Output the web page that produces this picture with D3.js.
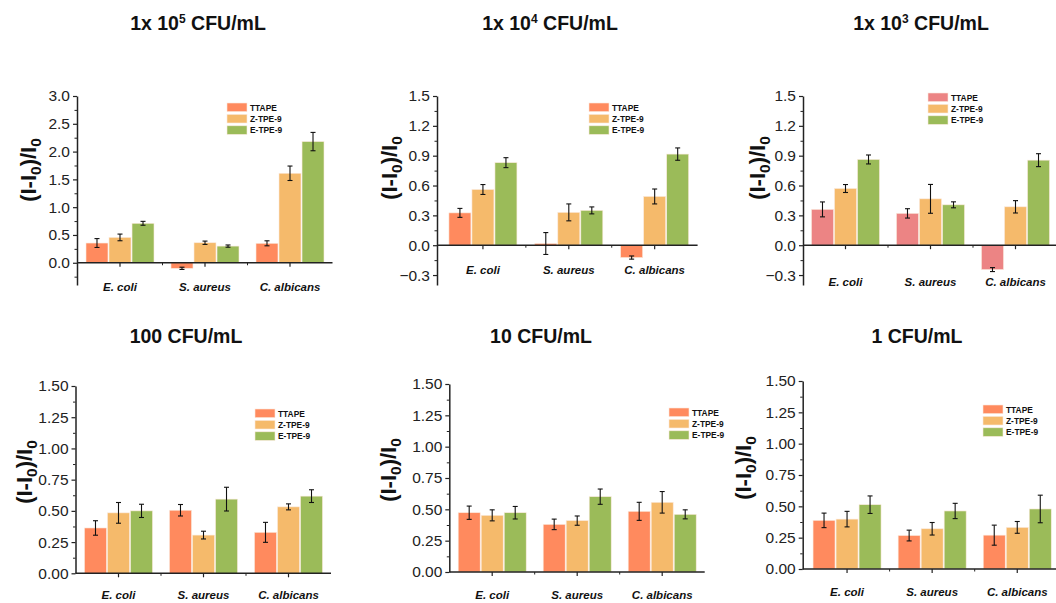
<!DOCTYPE html>
<html><head><meta charset="utf-8">
<script src="https://cdn.jsdelivr.net/npm/d3@7"></script>
<style>body{margin:0;background:#fff}svg{display:block}</style>
</head><body><svg id="c" width="1056" height="603"></svg>
<script>
const categories = ["E. coli", "S. aureus", "C. albicans"];
const series = ["TTAPE", "Z-TPE-9", "E-TPE-9"];
const titleMain = ["1x 10", "1x 10", "1x 10", "100 CFU/mL", "10 CFU/mL", "1 CFU/mL"];
const titleSup = ["5", "4", "3", "", "", ""];
const titleTail = [" CFU/mL", " CFU/mL", " CFU/mL", "", "", ""];
const ticksTop1 = [0, 0.5, 1.0, 1.5, 2.0, 2.5, 3.0];
const ticksTop = [-0.3, 0, 0.3, 0.6, 0.9, 1.2, 1.5];
const ticksBottom = [0, 0.25, 0.5, 0.75, 1.0, 1.25, 1.5];
// values[category][series], errors[category][series]
const p1Values = [[0.355, 0.456, 0.71], [-0.10, 0.36, 0.30], [0.35, 1.61, 2.18]];
const p1Errors = [[0.08, 0.06, 0.035], [0.02, 0.03, 0.02], [0.045, 0.13, 0.165]];
const p2Values = [[0.325, 0.56, 0.83], [0.017, 0.33, 0.35], [-0.124, 0.49, 0.916]];
const p2Errors = [[0.045, 0.05, 0.05], [0.11, 0.085, 0.035], [0.016, 0.075, 0.062]];
const p3Values = [[0.36, 0.57, 0.862], [0.32, 0.466, 0.406], [-0.245, 0.386, 0.855]];
const p3Errors = [[0.075, 0.04, 0.045], [0.047, 0.145, 0.03], [0.02, 0.062, 0.065]];
const p4Values = [[0.363, 0.484, 0.50], [0.505, 0.306, 0.594], [0.328, 0.532, 0.618]];
const p4Errors = [[0.058, 0.083, 0.053], [0.046, 0.031, 0.095], [0.08, 0.024, 0.051]];
const p5Values = [[0.473, 0.452, 0.473], [0.38, 0.41, 0.601], [0.484, 0.556, 0.46]];
const p5Errors = [[0.053, 0.044, 0.05], [0.042, 0.037, 0.061], [0.072, 0.086, 0.036]];
const p6Values = [[0.388, 0.398, 0.513], [0.267, 0.321, 0.463], [0.27, 0.332, 0.479]];
const p6Errors = [[0.058, 0.062, 0.07], [0.043, 0.05, 0.061], [0.08, 0.047, 0.11]];

const baseColors = ["#FF8A5E", "#F5BA6B", "#9BBB59"];
const p3Colors = ["#EC8484", "#F5BA6B", "#9BBB59"];

const panels = [
  {vals: p1Values, errs: p1Errors, ticks: ticksTop1, minor: 0.25, fmt: ".1f", dom: [-0.4, 3.0], yr: [285, 96], ax: 77, xr: [77.5, 332.5], colors: baseColors,
   title: [198, 30], ytitle: [28, 170], catY: 291, leg: [227, 103]},
  {vals: p2Values, errs: p2Errors, ticks: ticksTop, minor: 0.15, fmt: ".1f", dom: [-0.4, 1.5], yr: [285, 96], ax: 437, xr: [440, 697.6], colors: baseColors,
   title: [550, 30], ytitle: [389, 168], catY: 274, leg: [589, 103]},
  {vals: p3Values, errs: p3Errors, ticks: ticksTop, minor: 0.15, fmt: ".1f", dom: [-0.4, 1.5], yr: [285, 96], ax: 803, xr: [803, 1058], colors: p3Colors,
   title: [921, 30], ytitle: [757, 168], catY: 286, leg: [928, 93]},
  {vals: p4Values, errs: p4Errors, ticks: ticksBottom, minor: 0.125, fmt: ".2f", dom: [0, 1.5], yr: [573.3, 386], ax: 75.5, xr: [76, 331], colors: baseColors,
   title: [186, 343], ytitle: [24, 472], catY: 599, leg: [255, 409]},
  {vals: p5Values, errs: p5Errors, ticks: ticksBottom, minor: 0.125, fmt: ".2f", dom: [0, 1.5], yr: [572, 384], ax: 449.3, xr: [449.7, 704.7], colors: baseColors,
   title: [541, 343], ytitle: [388, 470], catY: 599, leg: [669, 408]},
  {vals: p6Values, errs: p6Errors, ticks: ticksBottom, minor: 0.125, fmt: ".2f", dom: [0, 1.5], yr: [569, 381], ax: 802.7, xr: [804.5, 1059.8], colors: baseColors,
   title: [917, 343], ytitle: [743, 468], catY: 596, leg: [983, 405]}
];

const svg = d3.select("#c");
const axisColor = "#222";
const FONT = "Liberation Sans, Arial, sans-serif";

panels.forEach((p, pi) => {
  const g = svg.append("g");
  const y = d3.scaleLinear().domain(p.dom).range(p.yr);
  const x = d3.scaleBand().domain(categories).range(p.xr);
  const groupW = 68;
  const xs = d3.scaleBand().domain(series).range([0, groupW]).paddingInner(0.045);

  // title
  const t = g.append("text").attr("x", p.title[0]).attr("y", p.title[1]).attr("text-anchor", "middle")
    .attr("font-family", FONT).attr("font-weight", "bold").attr("font-size", 19.5).attr("fill", "#111");
  t.append("tspan").text(titleMain[pi]);
  if (titleSup[pi]) {
    t.append("tspan").text(titleSup[pi]).attr("font-size", 12).attr("dy", -7);
    t.append("tspan").text(titleTail[pi]).attr("dy", 7);
  }

  // bars
  p.vals.forEach((row, ci) => {
    row.forEach((v, si) => {
      const bx = x(categories[ci]) + (x.bandwidth() - groupW) / 2 + xs(series[si]);
      g.append("rect").attr("x", bx).attr("width", xs.bandwidth())
        .attr("y", y(Math.max(0, v))).attr("height", Math.abs(y(v) - y(0)))
        .attr("fill", p.colors[si]).attr("stroke", "#fbe9dc").attr("stroke-width", 0.6);
    });
  });

  // y axis
  const yAxis = d3.axisLeft(y).tickValues(p.ticks).tickFormat(d3.format(p.fmt)).tickSize(4).tickSizeOuter(0).tickPadding(3);
  const ya = g.append("g").attr("transform", `translate(${p.ax},0)`).call(yAxis);
  ya.select(".domain").attr("stroke", axisColor).attr("stroke-width", 1.5);
  ya.selectAll(".tick line").attr("stroke", axisColor).attr("stroke-width", 1.2);
  ya.selectAll("text").attr("font-family", FONT).attr("font-size", 15.5).attr("fill", "#222");
  const mv = [];
  for (let k = -20; k <= 40; k++) {
    const v = k * p.minor * 2 + p.minor;
    if (v > p.dom[0] + 1e-9 && v < p.dom[1] - 1e-9) mv.push(v);
  }
  const yMinor = d3.axisLeft(y).tickValues(mv).tickFormat("").tickSize(2.5).tickSizeOuter(0);
  const ym = g.append("g").attr("transform", `translate(${p.ax},0)`).call(yMinor);
  ym.select(".domain").remove();
  ym.selectAll(".tick line").attr("stroke", axisColor).attr("stroke-width", 1);

  // x axis at zero
  const xAxis = d3.axisBottom(x).tickFormat("").tickSize(4).tickSizeOuter(0);
  const xa = g.append("g").attr("transform", `translate(0,${y(0)})`).call(xAxis);
  xa.select(".domain").remove();
  xa.selectAll(".tick line").attr("stroke", axisColor).attr("stroke-width", 1.2);
  g.append("line").attr("x1", p.ax).attr("x2", p.xr[1]).attr("y1", y(0)).attr("y2", y(0))
    .attr("stroke", axisColor).attr("stroke-width", 1.5);
  [categories[1], categories[2]].forEach(c => {
    g.append("line").attr("x1", x(c)).attr("x2", x(c)).attr("y1", y(0)).attr("y2", y(0) + 2.5)
      .attr("stroke", axisColor).attr("stroke-width", 1);
  });

  // category labels
  categories.forEach(c => {
    g.append("text").attr("x", x(c) + x.bandwidth() / 2).attr("y", p.catY).attr("text-anchor", "middle")
      .attr("font-family", FONT).attr("font-weight", "bold").attr("font-style", "italic")
      .attr("font-size", 11.5).attr("fill", "#111").text(c);
  });

  // error bars
  p.vals.forEach((row, ci) => {
    row.forEach((v, si) => {
      const cx = x(categories[ci]) + (x.bandwidth() - groupW) / 2 + xs(series[si]) + xs.bandwidth() / 2;
      const e = p.errs[ci][si];
      const y1 = y(v + e), y2 = y(v - e);
      g.append("line").attr("x1", cx).attr("x2", cx).attr("y1", y1).attr("y2", y2).attr("stroke", "#111").attr("stroke-width", 1.1);
      [y1, y2].forEach(yy => g.append("line").attr("x1", cx - 2.5).attr("x2", cx + 2.5).attr("y1", yy).attr("y2", yy)
        .attr("stroke", "#111").attr("stroke-width", 1.1));
    });
  });

  // y title
  const yt = g.append("text").attr("transform", `translate(${p.ytitle[0]},${p.ytitle[1]}) rotate(-90)`)
    .attr("text-anchor", "middle").attr("dy", "0.35em")
    .attr("font-family", FONT).attr("font-weight", "bold").attr("font-size", 22).attr("fill", "#111");
  yt.append("tspan").text("(I-I");
  yt.append("tspan").text("0").attr("font-size", 15.5).attr("dy", 5);
  yt.append("tspan").text(")/I").attr("dy", -5);
  yt.append("tspan").text("0").attr("font-size", 15.5).attr("dy", 5);

  // legend
  series.forEach((s, si) => {
    const ly = p.leg[1] + si * 11.4;
    g.append("rect").attr("x", p.leg[0]).attr("y", ly).attr("width", 20).attr("height", 8.6)
      .attr("fill", p.colors[si]).attr("stroke", "#fbe9dc").attr("stroke-width", 0.6);
    g.append("text").attr("x", p.leg[0] + 23).attr("y", ly + 7.6)
      .attr("font-family", FONT).attr("font-weight", "bold").attr("font-size", 8.4)
      .attr("fill", "#111").text(s);
  });
});
</script></body></html>
